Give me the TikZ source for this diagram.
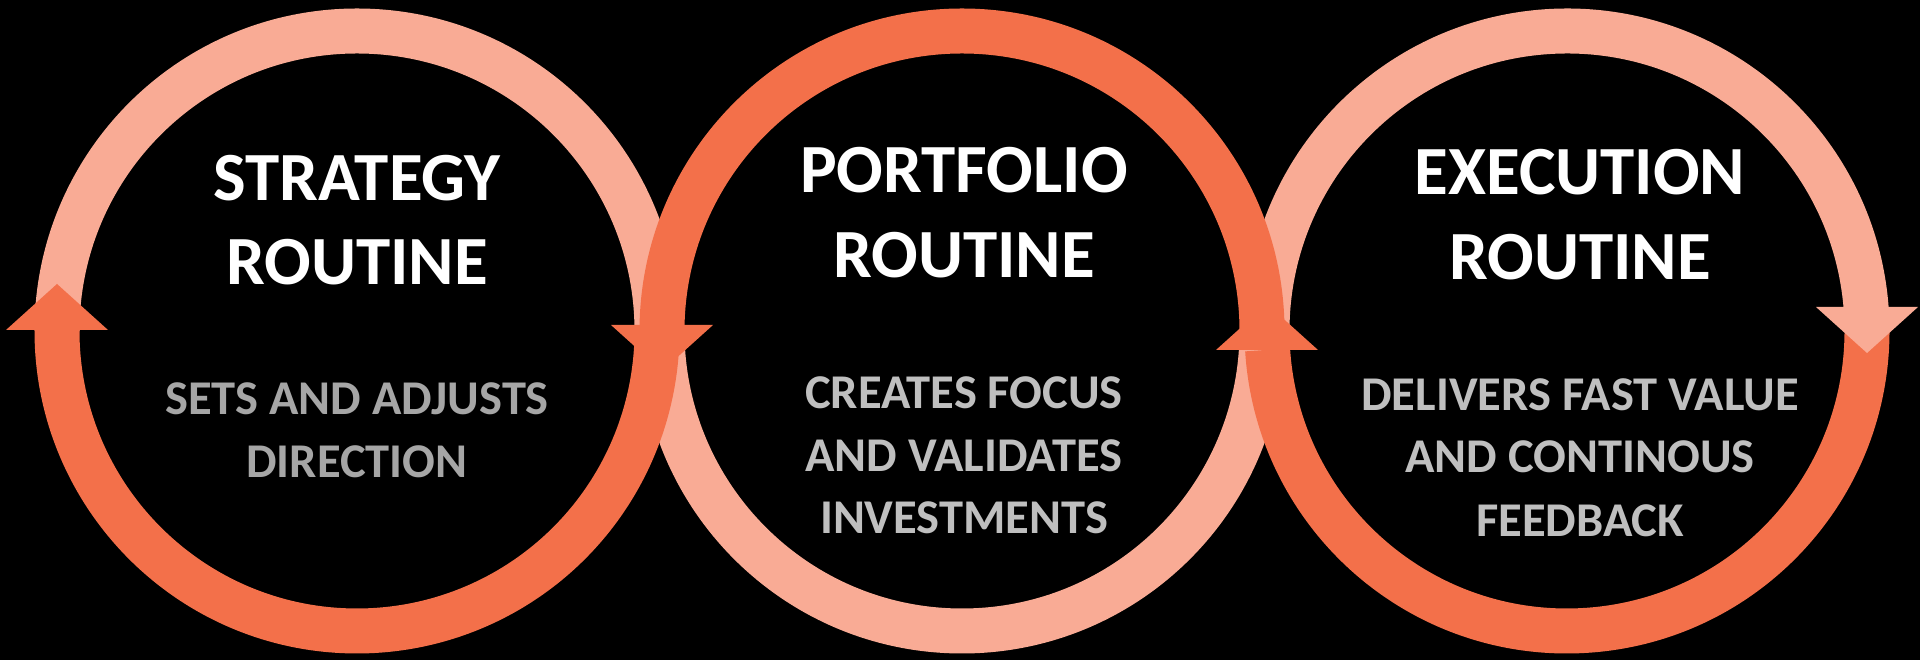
\documentclass[tikz,border=0pt]{standalone}
\usepackage{fontspec}
\setmainfont{Carlito}
\definecolor{lightc}{HTML}{F9AB95}
\definecolor{darkc}{HTML}{F3704A}
\definecolor{subA}{HTML}{A6A6A6}
\definecolor{subB}{HTML}{BFBFBF}
\begin{document}
\begin{tikzpicture}[x=1pt,y=1pt,
  lightarc/.style={draw=lightc,line width=45pt},
  darkarc/.style={draw=darkc,line width=45pt},
  lighthead/.style={fill=lightc},
  darkhead/.style={fill=darkc},
  title/.style={text=white,font=\fontsize{69}{69}\selectfont\bfseries,anchor=base,inner sep=0pt},
  subt/.style={font=\fontsize{48.5}{48.5}\selectfont\bfseries,anchor=base,inner sep=0pt}]
\fill[black] (0,0) rectangle (1920,660);
\useasboundingbox (0,0) rectangle (1920,660);
\coordinate (c1) at (357,329);
\coordinate (c2) at (962,329);
\coordinate (c3) at (1567,329);
% light arcs
\draw[lightarc] ([shift={(0:300pt)}]c1) arc[start angle=0,end angle=180,radius=300pt];
\draw[lightarc] ([shift={(180:300pt)}]c2) arc[start angle=180,end angle=360,radius=300pt];
\draw[lightarc] ([shift={(3:300pt)}]c3) arc[start angle=3,end angle=180,radius=300pt];
% dark arcs
\draw[darkarc] ([shift={(179.5:300pt)}]c1) arc[start angle=179.5,end angle=360,radius=300pt];
\draw[darkarc] ([shift={(0:300pt)}]c2) arc[start angle=0,end angle=180,radius=300pt];
\draw[darkarc] ([shift={(183.6:300pt)}]c3) arc[start angle=183.6,end angle=360,radius=300pt];
% arrowheads
\fill[darkhead] (6,330) -- (108,330) -- (57,376) -- cycle;
\fill[darkhead] (611,335) -- (713,335) -- (662,289) -- cycle;
\fill[darkhead] (1216,310) -- (1318,310) -- (1267,356) -- cycle;
\fill[lighthead] (1816,353) -- (1918,353) -- (1867,307) -- cycle;
% texts
\node[title] (t1a) at (357,459) {STRATEGY};
\node[title] (t1b) at (357,375) {ROUTINE};
\node[subt,text=subA] (s1a) at (357,245) {SETS AND ADJUSTS};
\node[subt,text=subA] (s1b) at (357,182) {DIRECTION};
\node[title] (t2a) at (964,467) {PORTFOLIO};
\node[title] (t2b) at (964,382) {ROUTINE};
\node[subt,text=subB] (s2a) at (964,251) {CREATES FOCUS};
\node[subt,text=subB] (s2b) at (964,188) {AND VALIDATES};
\node[subt,text=subB] (s2c) at (964,126) {INVESTMENTS};
\node[title] (t3a) at (1580,465) {EXECUTION};
\node[title] (t3b) at (1580,380) {ROUTINE};
\node[subt,text=subB] (s3a) at (1580,249) {DELIVERS FAST VALUE};
\node[subt,text=subB] (s3b) at (1580,187) {AND CONTINOUS};
\node[subt,text=subB] (s3c) at (1580,123) {FEEDBACK};
\end{tikzpicture}
\end{document}
